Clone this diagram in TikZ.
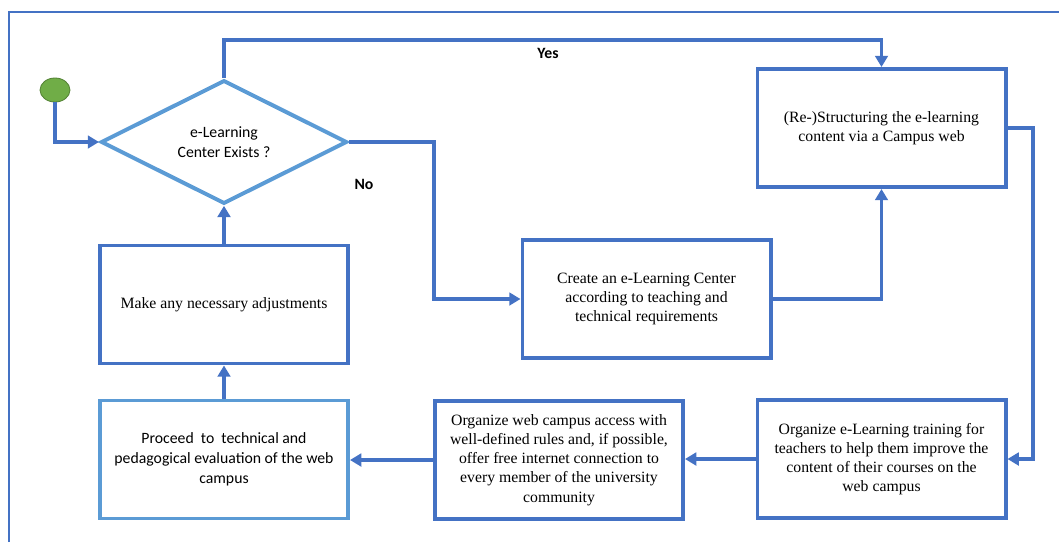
\documentclass[tikz,border=0pt]{standalone}
\usepackage{fontspec}
\setmainfont{Liberation Serif}
\newfontfamily\calibrifont{Carlito}
\usetikzlibrary{arrows.meta,positioning,shapes.geometric}
\definecolor{flowblue}{HTML}{4472C4}
\definecolor{flowlight}{HTML}{5B9BD5}
\definecolor{flowgreen}{HTML}{70AD47}
\definecolor{flowdkgreen}{HTML}{548235}

\begin{document}
\begin{tikzpicture}[
    x=0.025cm, y=-0.025cm,
    box/.style={draw=flowblue, line width=2.8pt, fill=white, minimum width=6.2cm, minimum height=2.95cm, align=center, inner sep=2pt, font=\fontsize{11.2}{13.6}\selectfont},
    lightbox/.style={box, draw=flowlight, font=\calibrifont\fontsize{11.2}{14.2}\selectfont},
    decision/.style={diamond, draw=flowlight, line width=2.8pt, minimum width=6.15cm, minimum height=2.95cm, inner sep=0pt, align=center, font=\calibrifont\fontsize{11.2}{14.2}\selectfont},
    startpt/.style={ellipse, draw=flowdkgreen, fill=flowgreen, line width=0.6pt, minimum width=0.75cm, minimum height=0.6cm, inner sep=0pt},
    lbl/.style={font=\calibrifont\bfseries\fontsize{11.2}{13}\selectfont},
    flow/.style={draw=flowblue, line width=2.8pt, -{Triangle[length=8pt,width=9pt]}}
  ]
    \useasboundingbox (0,0) rectangle (1059,542);

    % Frame
    \draw[flowblue, line width=1.2pt] (9,542) -- (9,12) -- (1059,12);

    % Start and decision
    \node[startpt] (start) at (55,90) {};
    \node[decision] (exists) at (224,142) {e-Learning\\Center Exists ?};

    % Right column
    \node[box] (restruct) at (881.5,128) {(Re-)Structuring the e-learning\\content via a Campus web};
    \node[box] (create) at (646.5,299) {Create an e-Learning Center\\according to teaching and\\technical requirements};
    \node[box] (training) at (881.5,459) {Organize e-Learning training for\\teachers to help them improve the\\content of their courses on the\\web campus};

    % Bottom row
    \node[box] (access) at (559,460) {Organize web campus access with\\well-defined rules and, if possible,\\offer free internet connection to\\every member of the university\\community};
    \node[lightbox] (evaluate) at (224,459.5) {Proceed\ \ to\ \ technical and\\pedagogical evaluation of the web\\campus};
    \node[box] (adjust) at (224,304.5) {Make any necessary adjustments};

    % Labels
    \node[lbl] (yes) at (548,53) {Yes};
    \node[lbl] (no) at (364,184) {No};

    % Turning points
    \coordinate (yesturn) at (224,40);
    \coordinate (noturn) at (434,220);
    \coordinate (rightturn) at (1033,300);

    % Edges
    \draw[flow] (start.south) |- (exists.west);
    \draw[flow] (exists.north) -- (yesturn) -| (restruct.north);
    \draw[flow] (exists.east) -| (noturn) |- (create.west);
    \draw[flow] (create.east) -| (restruct.south);
    \draw[flow] (restruct.east) -| (rightturn) |- (training.east);
    \draw[flow] (training.west) -- (training.west -| access.east);
    \draw[flow] (access.west) -- (access.west -| evaluate.east);
    \draw[flow] (evaluate.north) -- (adjust.south);
    \draw[flow] (adjust.north) -- (exists.south);
\end{tikzpicture}
\end{document}
